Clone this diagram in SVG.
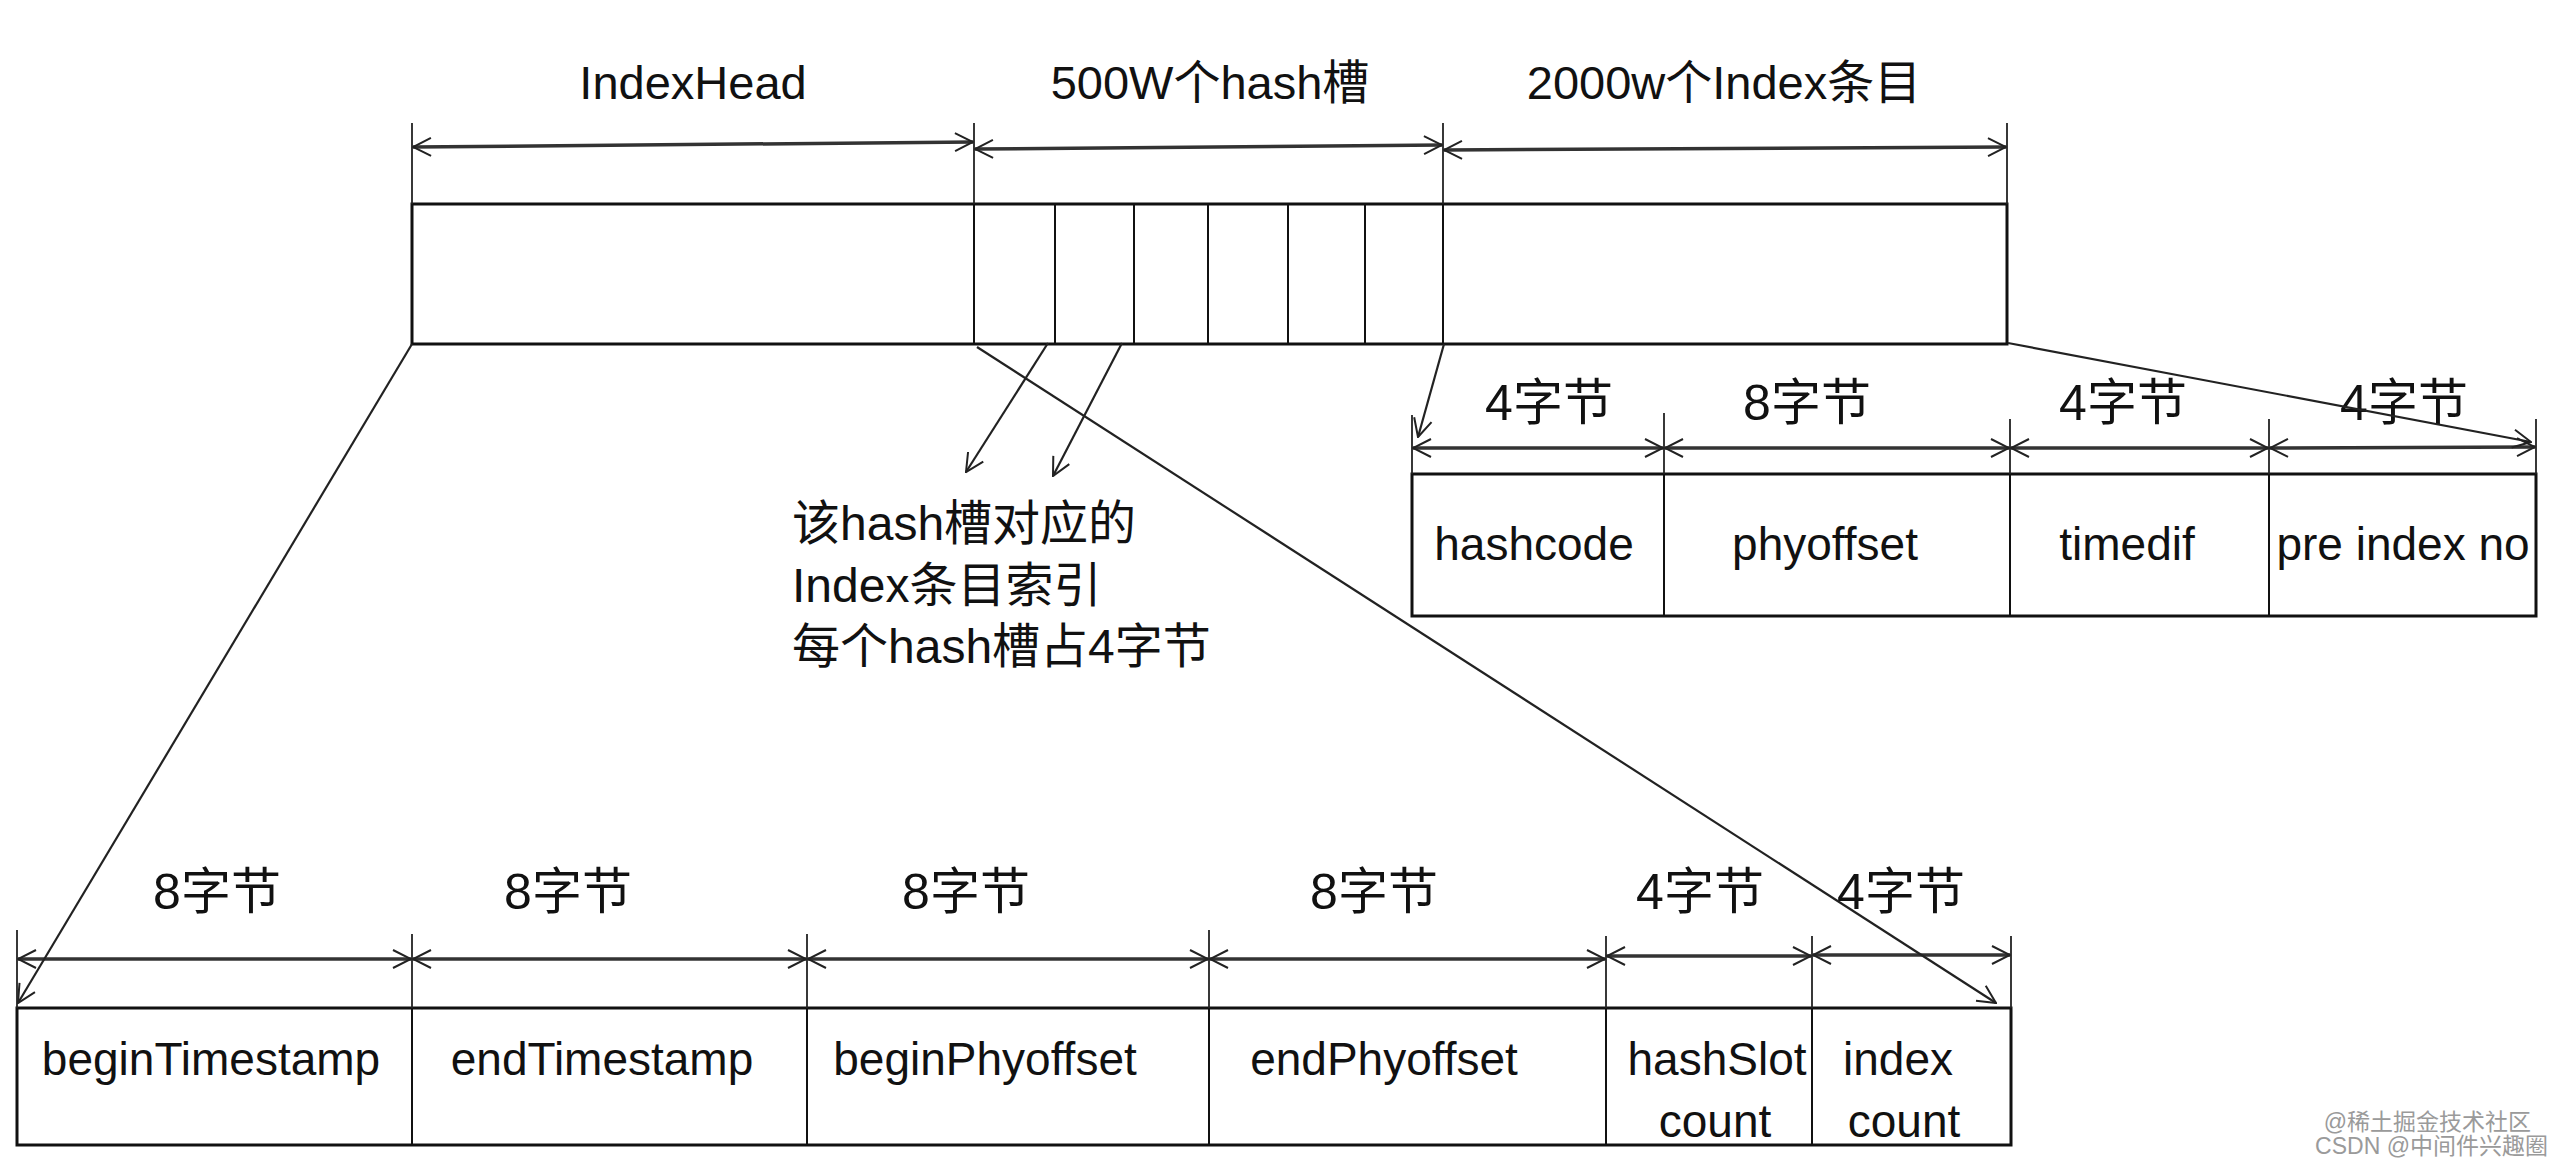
<svg xmlns="http://www.w3.org/2000/svg" width="2560" height="1162" viewBox="0 0 2560 1162">
<style>
.box{fill:none;stroke:#111;stroke-width:3}
.div{stroke:#111;stroke-width:2}
.ext{stroke:#222;stroke-width:1.8}
.dim{stroke:#333;stroke-width:3.5;fill:none;marker-start:url(#oa);marker-end:url(#oa)}
.con{stroke:#222;stroke-width:2.2;fill:none;marker-end:url(#oa)}
text{font-family:"Liberation Sans","Noto Sans CJK SC",sans-serif;fill:#111;font-size:46px;text-anchor:middle}
.ttl{font-size:47px}
.bytes{font-size:50px}
.note{text-anchor:start;font-size:48px}
.wm{fill:#9a9a9a;text-anchor:end;font-size:23px}
</style>
<defs>
<marker id="oa" viewBox="0 0 22 22" refX="21" refY="11" markerWidth="22" markerHeight="22" markerUnits="userSpaceOnUse" orient="auto-start-reverse">
<path d="M3,2 L21,11 L3,20" fill="none" stroke="#222" stroke-width="2"/>
</marker>
</defs>

<g id="index-file">
<rect class="box" x="412" y="204" width="1595" height="140"/>
<line class="div" x1="974" y1="204" x2="974" y2="344"/>
<line class="div" x1="1055" y1="204" x2="1055" y2="344"/>
<line class="div" x1="1134" y1="204" x2="1134" y2="344"/>
<line class="div" x1="1208" y1="204" x2="1208" y2="344"/>
<line class="div" x1="1288" y1="204" x2="1288" y2="344"/>
<line class="div" x1="1365" y1="204" x2="1365" y2="344"/>
<line class="div" x1="1443" y1="204" x2="1443" y2="344"/>
<line class="ext" x1="412" y1="123" x2="412" y2="204"/>
<line class="ext" x1="974" y1="123" x2="974" y2="204"/>
<line class="ext" x1="1443" y1="123" x2="1443" y2="204"/>
<line class="ext" x1="2007" y1="123" x2="2007" y2="204"/>
<line class="dim" x1="413" y1="147" x2="973" y2="142"/>
<line class="dim" x1="975" y1="149" x2="1442" y2="145"/>
<line class="dim" x1="1444" y1="150" x2="2006" y2="147"/>
<text class="ttl" x="693" y="99">IndexHead</text>
<text class="ttl" x="1210" y="99">500W个hash槽</text>
<text class="ttl" x="1724" y="99">2000w个Index条目</text>
</g>

<g id="index-entry">
<rect class="box" x="1412" y="474" width="1124" height="142"/>
<line class="div" x1="1664" y1="474" x2="1664" y2="616"/>
<line class="div" x1="2010" y1="474" x2="2010" y2="616"/>
<line class="div" x1="2269" y1="474" x2="2269" y2="616"/>
<line class="ext" x1="1412" y1="415" x2="1412" y2="474"/>
<line class="ext" x1="1664" y1="413" x2="1664" y2="474"/>
<line class="ext" x1="2010" y1="419" x2="2010" y2="474"/>
<line class="ext" x1="2269" y1="419" x2="2269" y2="474"/>
<line class="ext" x1="2536" y1="419" x2="2536" y2="474"/>
<line class="dim" x1="1413" y1="448" x2="1663" y2="448"/>
<line class="dim" x1="1665" y1="448" x2="2009" y2="448"/>
<line class="dim" x1="2011" y1="448" x2="2268" y2="448"/>
<line class="dim" x1="2270" y1="448" x2="2535" y2="447"/>
<text class="bytes" x="1549" y="420">4字节</text>
<text class="bytes" x="1807" y="420">8字节</text>
<text class="bytes" x="2123" y="420">4字节</text>
<text class="bytes" x="2404" y="420">4字节</text>
<text x="1534" y="560">hashcode</text>
<text x="1825" y="560">phyoffset</text>
<text x="2127" y="560">timedif</text>
<text x="2403" y="560">pre index no</text>
</g>

<g id="index-head">
<rect class="box" x="17" y="1008" width="1994" height="137"/>
<line class="div" x1="412" y1="1008" x2="412" y2="1145"/>
<line class="div" x1="807" y1="1008" x2="807" y2="1145"/>
<line class="div" x1="1209" y1="1008" x2="1209" y2="1145"/>
<line class="div" x1="1606" y1="1008" x2="1606" y2="1145"/>
<line class="div" x1="1812" y1="1008" x2="1812" y2="1145"/>
<line class="ext" x1="17" y1="930" x2="17" y2="1008"/>
<line class="ext" x1="412" y1="934" x2="412" y2="1008"/>
<line class="ext" x1="807" y1="934" x2="807" y2="1008"/>
<line class="ext" x1="1209" y1="930" x2="1209" y2="1008"/>
<line class="ext" x1="1606" y1="936" x2="1606" y2="1008"/>
<line class="ext" x1="1812" y1="936" x2="1812" y2="1008"/>
<line class="ext" x1="2011" y1="936" x2="2011" y2="1008"/>
<line class="dim" x1="18" y1="959" x2="411" y2="959"/>
<line class="dim" x1="413" y1="959" x2="806" y2="959"/>
<line class="dim" x1="808" y1="959" x2="1208" y2="959"/>
<line class="dim" x1="1210" y1="959" x2="1605" y2="959"/>
<line class="dim" x1="1607" y1="956" x2="1811" y2="956"/>
<line class="dim" x1="1813" y1="955" x2="2010" y2="955"/>
<text class="bytes" x="217" y="909">8字节</text>
<text class="bytes" x="568" y="909">8字节</text>
<text class="bytes" x="966" y="909">8字节</text>
<text class="bytes" x="1374" y="909">8字节</text>
<text class="bytes" x="1700" y="909">4字节</text>
<text class="bytes" x="1901" y="909">4字节</text>
<text x="211" y="1075">beginTimestamp</text>
<text x="602" y="1075">endTimestamp</text>
<text x="985" y="1075">beginPhyoffset</text>
<text x="1384" y="1075">endPhyoffset</text>
<text x="1717" y="1075">hashSlot</text>
<text x="1715" y="1137">count</text>
<text x="1898" y="1075">index</text>
<text x="1904" y="1137">count</text>
</g>

<g id="slot-note">
<text class="note" x="792" y="540">该hash槽对应的</text>
<text class="note" x="792" y="602">Index条目索引</text>
<text class="note" x="792" y="663">每个hash槽占4字节</text>
</g>

<g id="connectors">
<line class="con" x1="412" y1="344" x2="18" y2="1003"/>
<line class="con" x1="977" y1="347" x2="1996" y2="1003"/>
<line class="con" x1="1048" y1="343" x2="966" y2="472"/>
<line class="con" x1="1122" y1="343" x2="1053" y2="476"/>
<line class="con" x1="1444" y1="344" x2="1418" y2="437"/>
<line class="con" x1="2008" y1="343" x2="2531" y2="442"/>
</g>

<g id="watermark">
<text class="wm" x="2531" y="1130">@稀土掘金技术社区</text>
<text class="wm" x="2548" y="1154">CSDN @中间件兴趣圈</text>
</g>
</svg>
